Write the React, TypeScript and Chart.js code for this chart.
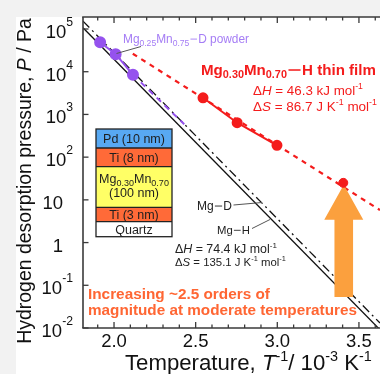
import React, { useEffect, useRef } from "react";
import { Chart, registerables } from "chart.js";

Chart.register(...registerables);

// ---------- data ----------
// x: 1/T in 10^-3 K^-1, y: pressure in Pa
const powderX = [1.915, 2.01, 2.116];
const powderP = [49000, 25700, 8500];
const powderTrendX = [2.116, 2.43];
const powderTrendP = [8500, 590];

const filmX = [2.545, 2.754, 2.998];
const filmP = [2450, 640, 189];
const filmExtraX = [3.404];
const filmExtraP = [25];
const filmFitX = [2.115, 3.629];
const filmFitP = [26360, 5.75];

const mgHX = [1.81, 3.629];
const mgHP = [106900, 0.0091];
const mgDX = [1.81, 3.629];
const mgDP = [152800, 0.01306];

const xMajorTicks = [2.0, 2.5, 3.0, 3.5];
const xTickLabels = ["2.0", "2.5", "3.0", "3.5"];
const xMinorTicks = [1.9, 2.1, 2.2, 2.3, 2.4, 2.6, 2.7, 2.8, 2.9, 3.1, 3.2, 3.3, 3.4, 3.6];
const yDecades = [1e-2, 1e-1, 1, 10, 1e2, 1e3, 1e4, 1e5];
const yTickBase = ["10", "10", "1", "10", "10", "10", "10", "10"];
const yTickExp = ["-2", "-1", "", "", "2", "3", "4", "5"];

const layerNames = ["Pd (10 nm)", "Ti (8 nm)", "Mg0.30Mn0.70 (100 nm)", "Ti (3 nm)", "Quartz"];

// ---------- styling ----------
const FAMILY = "'Liberation Sans', Arial, Helvetica, sans-serif";
const RED = "#f41c1c";
const PURPLE = "#9552ee";
const PURPLE_TXT = "#a57df5";
const ORANGE_TXT = "#ff6633";
const ARROW = "#fba03e";
const AXIS = "#3a3a3a";

type Seg = { t: string; s?: number; dy?: number; it?: boolean; bar?: number };
const sup = (t: string): Seg => ({ t, s: 0.65, dy: -0.42 });
const sub = (t: string): Seg => ({ t, s: 0.72, dy: 0.22 });
const dash = (w: number): Seg => ({ t: "", bar: w });

function fontOf(size: number, bold: boolean, it: boolean) {
  return `${it ? "italic " : ""}${bold ? "bold " : ""}${size}px ${FAMILY}`;
}

function segWidth(ctx: CanvasRenderingContext2D, g: Seg, base: number, bold: boolean) {
  if (g.bar) return g.bar * base;
  ctx.font = fontOf(base * (g.s ?? 1), bold, !!g.it);
  return ctx.measureText(g.t).width;
}

function measureRich(ctx: CanvasRenderingContext2D, segs: Seg[], base: number, bold: boolean) {
  let w = 0;
  for (const g of segs) w += segWidth(ctx, g, base, bold);
  return w;
}

function drawRich(
  ctx: CanvasRenderingContext2D,
  segs: Seg[],
  x: number,
  y: number,
  opt: { base: number; bold?: boolean; color: string; align?: "left" | "center" | "right"; width?: number }
) {
  const bold = !!opt.bold;
  let base = opt.base;
  if (opt.width) {
    const w0 = measureRich(ctx, segs, base, bold);
    base = (base * opt.width) / w0;
  }
  const w = measureRich(ctx, segs, base, bold);
  let cx = opt.align === "right" ? x - w : opt.align === "center" ? x - w / 2 : x;
  ctx.fillStyle = opt.color;
  ctx.textBaseline = "alphabetic";
  ctx.textAlign = "left";
  for (const g of segs) {
    const sw = segWidth(ctx, g, base, bold);
    if (g.bar) {
      const th = bold ? base * 0.1 : base * 0.075;
      ctx.fillRect(cx + base * 0.1, y - base * 0.33 - th / 2, sw - base * 0.2, th);
    } else {
      ctx.font = fontOf(base * (g.s ?? 1), bold, !!g.it);
      ctx.fillText(g.t, cx, y + (g.dy ?? 0) * base);
    }
    cx += sw;
  }
}

function line(ctx: CanvasRenderingContext2D, x1: number, y1: number, x2: number, y2: number, color: string, w: number) {
  ctx.beginPath();
  ctx.moveTo(x1, y1);
  ctx.lineTo(x2, y2);
  ctx.strokeStyle = color;
  ctx.lineWidth = w;
  ctx.stroke();
}

const zip = (xs: number[], ys: number[]) => xs.map((x, i) => ({ x, y: ys[i] }));

const backgroundPlugin = {
  id: "bg",
  beforeDraw(chart: any) {
    const ctx = chart.ctx as CanvasRenderingContext2D;
    ctx.save();
    ctx.fillStyle = "#f2f2f2";
    ctx.fillRect(0, 0, chart.width, chart.height);
    ctx.fillStyle = "#ffffff";
    ctx.fillRect(16, 17, chart.width - 16, chart.height - 17);
    ctx.restore();
  },
};

const arrowPlugin = {
  id: "arrow",
  beforeDatasetDraw(chart: any, args: any) {
    if (args.index !== 6) return;
    const ctx = chart.ctx as CanvasRenderingContext2D;
    const px = chart.scales.x.getPixelForValue(filmExtraX[0]) + 0.5;
    const py = chart.scales.y.getPixelForValue(filmExtraP[0]);
    const tipY = py + 2;
    ctx.save();
    ctx.fillStyle = ARROW;
    ctx.beginPath();
    ctx.moveTo(px, tipY);
    ctx.lineTo(px + 19.5, tipY + 35);
    ctx.lineTo(px + 9.3, tipY + 35);
    ctx.lineTo(px + 9.3, 297);
    ctx.lineTo(px - 9.3, 297);
    ctx.lineTo(px - 9.3, tipY + 35);
    ctx.lineTo(px - 19.5, tipY + 35);
    ctx.closePath();
    ctx.fill();
    ctx.restore();
  },
};

const annotationPlugin = {
  id: "annot",
  afterDatasetsDraw(chart: any) {
    const ctx = chart.ctx as CanvasRenderingContext2D;
    ctx.save();

    // layer stack
    const bx = 96, bw = 76;
    const rows = [129, 148, 166.7, 207.3, 221.7, 236.7];
    const fills = ["#58a9f3", "#ff6a38", "#ffff66", "#ff6a38", "#ffffff"];
    for (let i = 0; i < 5; i++) {
      ctx.fillStyle = fills[i];
      ctx.fillRect(bx, rows[i], bw, rows[i + 1] - rows[i]);
    }
    ctx.strokeStyle = "#222";
    ctx.lineWidth = 1.3;
    ctx.strokeRect(bx, rows[0], bw, rows[5] - rows[0]);
    for (let i = 1; i < 5; i++) line(ctx, bx, rows[i], bx + bw, rows[i], "#222", 1.3);
    const cxB = bx + bw / 2;
    const dark = "#1e1e1e";
    drawRich(ctx, [{ t: layerNames[0] }], cxB, 143, { base: 12.5, color: dark, align: "center" });
    drawRich(ctx, [{ t: layerNames[1] }], cxB, 161.5, { base: 12.5, color: dark, align: "center" });
    drawRich(ctx, [{ t: "Mg" }, sub("0.30"), { t: "Mn" }, sub("0.70")], cxB, 183, {
      base: 12.5,
      color: dark,
      align: "center",
    });
    drawRich(ctx, [{ t: "(100 nm)" }], cxB, 196.5, { base: 12.5, color: dark, align: "center" });
    drawRich(ctx, [{ t: layerNames[3] }], cxB, 219, { base: 12.5, color: dark, align: "center" });
    drawRich(ctx, [{ t: layerNames[4] }], cxB, 234, { base: 12.5, color: dark, align: "center" });

    // powder label
    line(ctx, 116.5, 53.5, 141, 46.5, "#555", 1);
    drawRich(ctx, [{ t: "Mg" }, sub("0.25"), { t: "Mn" }, sub("0.75"), dash(0.75), { t: "D powder" }], 123, 43, {
      base: 12,
      color: PURPLE_TXT,
      width: 126,
    });

    // film label
    drawRich(ctx, [{ t: "Mg" }, sub("0.30"), { t: "Mn" }, sub("0.70"), dash(1.0), { t: "H thin film" }], 201, 75, {
      base: 16.5,
      bold: true,
      color: RED,
      width: 175,
    });
    drawRich(
      ctx,
      [{ t: "\u0394" }, { t: "H", it: true }, { t: " = 46.3 kJ mol" }, sup("-1")],
      253,
      95,
      { base: 13, color: RED, width: 110 }
    );
    drawRich(
      ctx,
      [{ t: "\u0394" }, { t: "S", it: true }, { t: " = 86.7 J K" }, sup("-1"), { t: " mol" }, sup("-1")],
      253,
      111,
      { base: 13, color: RED, width: 124 }
    );

    // Mg-D / Mg-H labels
    line(ctx, 233.5, 205, 262, 202.5, "#555", 1);
    line(ctx, 252, 228.5, 270, 219.5, "#555", 1);
    drawRich(ctx, [{ t: "Mg" }, dash(0.8), { t: "D" }], 197, 210, { base: 12.5, color: "#222", width: 35 });
    drawRich(ctx, [{ t: "Mg" }, dash(0.8), { t: "H" }], 217, 234, { base: 12.5, color: "#222", width: 33 });

    drawRich(
      ctx,
      [{ t: "\u0394" }, { t: "H", it: true }, { t: " = 74.4 kJ mol" }, sup("-1")],
      175,
      253,
      { base: 12, color: "#222", width: 102 }
    );
    drawRich(
      ctx,
      [{ t: "\u0394" }, { t: "S", it: true }, { t: " = 135.1 J K" }, sup("-1"), { t: " mol" }, sup("-1")],
      175,
      265.5,
      { base: 12, color: "#222", width: 111 }
    );

    // orange message
    drawRich(ctx, [{ t: "Increasing ~2.5 orders of" }], 88, 298.5, {
      base: 15,
      bold: true,
      color: ORANGE_TXT,
      width: 182,
    });
    drawRich(ctx, [{ t: "magnitude at moderate temperatures" }], 88, 315, {
      base: 15,
      bold: true,
      color: ORANGE_TXT,
      width: 269,
    });

    ctx.restore();
  },
};

const axesPlugin = {
  id: "axes",
  afterDraw(chart: any) {
    const ctx = chart.ctx as CanvasRenderingContext2D;
    const { left, right, top, bottom } = chart.chartArea;
    const xs = chart.scales.x;
    const ys = chart.scales.y;
    ctx.save();
    // frame
    line(ctx, left, top, left, bottom, AXIS, 1.6);
    line(ctx, left - 0.8, bottom, right, bottom, AXIS, 1.6);
    line(ctx, left - 0.8, top, right, top, AXIS, 1.6);

    // x ticks (inward, top and bottom)
    for (const v of xMajorTicks) {
      const p = xs.getPixelForValue(v);
      line(ctx, p, bottom, p, bottom - 6, AXIS, 1.3);
      line(ctx, p, top, p, top + 6, AXIS, 1.3);
    }
    for (const v of xMinorTicks) {
      const p = xs.getPixelForValue(v);
      line(ctx, p, bottom, p, bottom - 3.5, AXIS, 1.3);
      line(ctx, p, top, p, top + 3.5, AXIS, 1.3);
    }
    // x tick labels
    xMajorTicks.forEach((v, i) => {
      const p = xs.getPixelForValue(v);
      drawRich(ctx, [{ t: xTickLabels[i] }], p, 347, { base: 18.5, color: "#111", align: "center" });
    });

    // y ticks + labels
    yDecades.forEach((v, i) => {
      const p = ys.getPixelForValue(v);
      line(ctx, left, p, left + 5.5, p, AXIS, 1.3);
      if (yTickExp[i]) {
        drawRich(ctx, [{ t: yTickBase[i] }, { t: yTickExp[i], s: 0.66, dy: -0.66 }], 73, p + 9, {
          base: 18.5,
          color: "#111",
          align: "right",
        });
      } else {
        drawRich(ctx, [{ t: yTickBase[i] }], 63, p + 9, { base: 18.5, color: "#111", align: "right" });
      }
    });

    // x title
    drawRich(
      ctx,
      [
        { t: "Temperature, " },
        { t: "T", it: true },
        sup("-1"),
        { t: "/ 10" },
        sup("-3"),
        { t: " K" },
        sup("-1"),
      ],
      125,
      370,
      { base: 18.5, color: "#111", width: 247 }
    );

    // y title (rotated)
    ctx.translate(31, 181);
    ctx.rotate(-Math.PI / 2);
    drawRich(
      ctx,
      [{ t: "Hydrogen desorption pressure, " }, { t: "P", it: true }, { t: " / Pa" }],
      0,
      0,
      { base: 18.5, color: "#111", align: "center", width: 326 }
    );
    ctx.restore();
  },
};

export default function App() {
  const ref = useRef<HTMLCanvasElement | null>(null);

  useEffect(() => {
    if (!ref.current) return;
    const chart = new Chart(ref.current, {
      type: "scatter",
      data: {
        datasets: [
          {
            label: "Mg-H",
            data: zip(mgHX, mgHP),
            showLine: true,
            borderColor: "#111",
            borderWidth: 1.3,
            pointRadius: 0,
            order: 6,
          },
          {
            label: "Mg-D",
            data: zip(mgDX, mgDP),
            showLine: true,
            borderColor: "#111",
            borderWidth: 1.3,
            borderDash: [9, 4, 2, 4],
            pointRadius: 0,
            order: 5,
          },
          {
            label: "powder trend",
            data: zip(powderTrendX, powderTrendP),
            showLine: true,
            borderColor: PURPLE,
            borderWidth: 2,
            borderDash: [6, 5],
            pointRadius: 0,
            order: 4,
          },
          {
            label: "Mg0.25Mn0.75-D powder",
            data: zip(powderX, powderP),
            showLine: true,
            borderColor: PURPLE,
            backgroundColor: PURPLE,
            borderWidth: 2,
            pointRadius: 5,
            pointBackgroundColor: PURPLE,
            pointBorderColor: PURPLE,
            order: 3,
          },
          {
            label: "film fit",
            data: zip(filmFitX, filmFitP),
            showLine: true,
            borderColor: RED,
            borderWidth: 2.2,
            borderDash: [5, 5],
            pointRadius: 0,
            order: 2.5,
          },
          {
            label: "Mg0.30Mn0.70-H thin film",
            data: zip(filmX, filmP),
            showLine: true,
            borderColor: RED,
            backgroundColor: RED,
            borderWidth: 2,
            pointRadius: 4.5,
            pointBackgroundColor: RED,
            pointBorderColor: RED,
            order: 2,
          },
          {
            label: "thin film extra",
            data: zip(filmExtraX, filmExtraP),
            showLine: false,
            backgroundColor: RED,
            pointRadius: 4.5,
            pointBackgroundColor: RED,
            pointBorderColor: RED,
            order: 1,
          },
        ],
      },
      options: {
        animation: false,
        responsive: false,
        devicePixelRatio: 1,
        layout: { autoPadding: false, padding: { left: 83, top: 17, right: 0, bottom: 46 } },
        plugins: { legend: { display: false }, tooltip: { enabled: false }, title: { display: false } },
        scales: {
          x: { type: "linear", min: 1.81, max: 3.629, display: false },
          y: { type: "logarithmic", min: 0.01, max: 191000, display: false },
        },
      },
      plugins: [backgroundPlugin, arrowPlugin, annotationPlugin, axesPlugin],
    } as any);
    return () => chart.destroy();
  }, []);

  return (
    <div style={{ position: "fixed", left: 0, top: 0, width: 380, height: 374, overflow: "hidden" }}>
      <canvas ref={ref} width={380} height={374} style={{ display: "block" }} />
    </div>
  );
}
